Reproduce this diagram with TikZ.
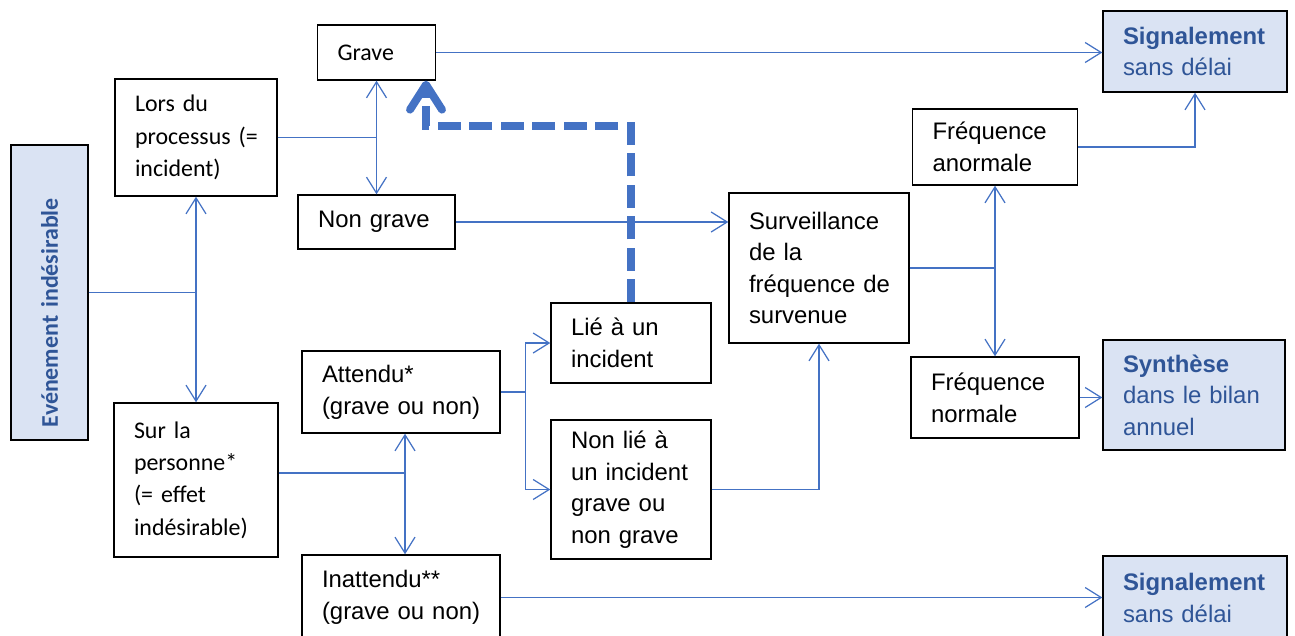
\documentclass[tikz,border=0pt]{standalone}
\usepackage{fontspec}
\setmainfont{Liberation Sans}
\newfontfamily\calibri{Carlito}
\usepackage{tikz}
\usetikzlibrary{arrows.meta}

\definecolor{linkblue}{HTML}{4472C4}
\definecolor{boxblue}{HTML}{DAE3F3}
\definecolor{textblue}{HTML}{2F5597}

\begin{document}
\begin{tikzpicture}[
    every node/.style={font=\fontsize{13.6pt}{18pt}\selectfont},
    calib/.style={font=\fontsize{13.6pt}{18.4pt}\selectfont\calibri},
    box/.style={draw, rectangle, line width=0.8pt, inner xsep=0.4cm, inner ysep=0pt, align=left},
    result/.style={box, fill=boxblue, text=textblue},
    link/.style={draw=linkblue, line width=0.7pt},
    dashlink/.style={draw=linkblue, line width=4.5pt, dash pattern=on 0.46cm off 0.17cm},
    >={Straight Barb[length=0.32cm, width=0.4cm]}
]
    \useasboundingbox (0,0) rectangle (25.9,-12.7);

    % Starting point
    \node[result, calib, rotate=90, minimum width=5.9cm, minimum height=1.54cm, text width=5.38cm, inner xsep=0.26cm] (evt) at (0.99,-5.85) {\bfseries Evénement indésirable};

    % Where it happens
    \node[box, calib, minimum width=3.24cm, minimum height=2.34cm, text width=2.44cm] (lors) at (3.92,-2.75) {Lors du\\processus~(=\\incident)};
    \node[box, calib, minimum width=3.28cm, minimum height=3.08cm, text width=2.48cm] (sur) at (3.92,-9.60) {Sur la\\personne*\\(=~effet\\indésirable)};

    % Severity / expectation
    \node[box, calib, minimum width=2.36cm, minimum height=1.10cm, text width=1.56cm] (grave) at (7.53,-1.05) {Grave};
    \node[box, minimum width=3.14cm, minimum height=1.08cm, text width=2.34cm] (nongrave) at (7.53,-4.44) {Non~grave};
    \node[box, minimum width=3.96cm, minimum height=1.64cm, text width=3.16cm] (attendu) at (8.02,-7.84) {Attendu*\\(grave~ou~non)};
    \node[box, minimum width=3.96cm, minimum height=1.70cm, text width=3.16cm] (inattendu) at (8.02,-11.95) {Inattendu**\\(grave~ou~non)};

    % Link with an incident
    \node[box, minimum width=3.20cm, minimum height=1.60cm, text width=2.40cm] (lie) at (12.62,-6.86) {Lié à un\\incident};
    \node[box, minimum width=3.20cm, minimum height=2.78cm, text width=2.40cm] (nonlie) at (12.62,-9.79) {Non lié à\\un~incident\\grave~ou\\non~grave};

    % Follow-up
    \node[box, minimum width=3.60cm, minimum height=3.00cm, text width=2.80cm] (surv) at (16.38,-5.36) {Surveillance\\de la\\fréquence~de\\survenue};
    \node[box, minimum width=3.30cm, minimum height=1.52cm, text width=2.50cm] (anorm) at (19.90,-2.94) {Fréquence\\anormale};
    \node[box, minimum width=3.36cm, minimum height=1.62cm, text width=2.56cm] (normal) at (19.90,-7.95) {Fréquence\\normale};

    % Outcomes
    \node[result, minimum width=3.68cm, minimum height=1.62cm, text width=2.88cm] (sig1) at (23.90,-1.03) {{\bfseries Signalement}\\sans délai};
    \node[result, minimum width=3.64cm, minimum height=2.20cm, text width=2.84cm] (synth) at (23.88,-7.90) {{\bfseries Synthèse}\\dans~le~bilan\\annuel};
    \node[result, minimum width=3.68cm, minimum height=1.68cm, text width=2.88cm] (sig2) at (23.90,-11.96) {{\bfseries Signalement}\\sans délai};

    % Junctions
    \coordinate (jsur) at ([xshift=0.08cm]attendu.south);
    \coordinate (jatt) at ([xshift=0.5cm]attendu.east);

    % Arrows
    \draw[link] (evt.south) -- (evt.south -| lors.south);
    \draw[link, <->] (lors.south) -- (sur.north);
    \draw[link] (lors.east) -- (lors.east -| grave.south);
    \draw[link, <->] (grave.south) -- (nongrave.north);
    \draw[link, ->] (grave.east) -- (grave.east -| sig1.west);
    \draw[link, ->] (nongrave.east) -- (nongrave.east -| surv.west);
    \draw[link] ([yshift=0.14cm]sur.east) -- ([yshift=0.14cm]sur.east -| jsur);
    \draw[link, <->] (jsur) -- (jsur |- inattendu.north);
    \draw[link] (attendu.east) -- (jatt);
    \draw[link, ->] (jatt) |- (lie.west);
    \draw[link, ->] (jatt) |- (nonlie.west);
    \draw[link, ->] (nonlie.east) -| (surv.south);
    \draw[link] (surv.east) -- (surv.east -| anorm.south);
    \draw[link, <->] (anorm.south) -- (normal.north);
    \draw[link, ->] (anorm.east) -| (sig1.south);
    \draw[link, ->] (normal.east) -- (normal.east -| synth.west);
    \draw[link, ->] (inattendu.east) -- (inattendu.east -| sig2.west);
    \draw[dashlink, -{Straight Barb[length=0.5cm, width=0.64cm, line cap=round, line join=round]}] (lie.north) -- ++(0,3.52) -| ([xshift=0.99cm]grave.south);
\end{tikzpicture}
\end{document}
